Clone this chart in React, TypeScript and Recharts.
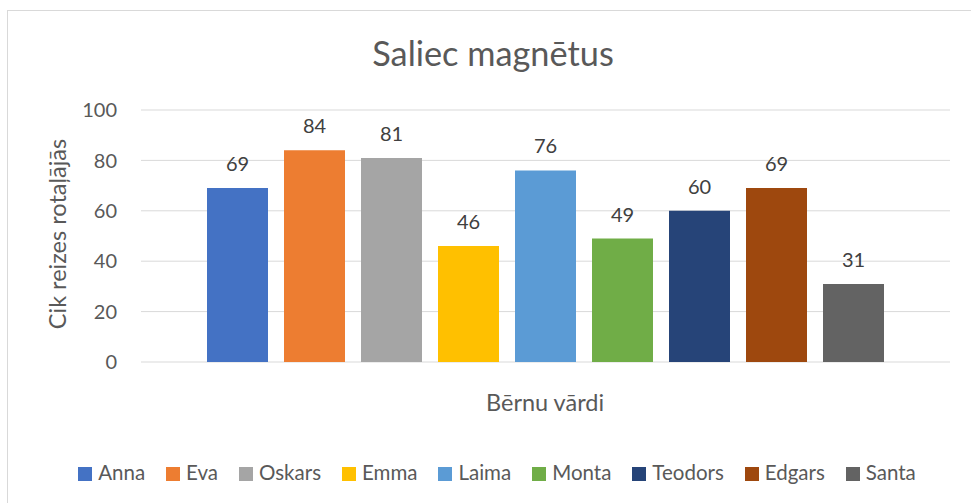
import React from 'react';
import { BarChart, Bar, XAxis, YAxis, CartesianGrid, LabelList } from 'recharts';

const seriesNames = ['Anna', 'Eva', 'Oskars', 'Emma', 'Laima', 'Monta', 'Teodors', 'Edgars', 'Santa'];
const seriesValues = [69, 84, 81, 46, 76, 49, 60, 69, 31];
const seriesColors = ['#4472C4', '#ED7D31', '#A5A5A5', '#FFC000', '#5B9BD5', '#70AD47', '#264478', '#9E480E', '#636363'];
const yTicks = [0, 20, 40, 60, 80, 100];
const titleText = 'Saliec magnētus';
const xTitle = 'Bērnu vārdi';
const yTitle = 'Cik reizes rotaļājās';

const row: Record<string, string | number> = { category: '' };
seriesNames.forEach((n, i) => {
  row[n] = seriesValues[i];
});
const data = [row];

const FONT = 'Lato, "Open Sans", sans-serif';
const TEXT = '#595959';

export default function App() {
  return (
    <div style={{ position: 'fixed', left: 0, top: 0, width: 971, height: 503, overflow: 'hidden', background: '#fff', fontFamily: FONT }}>
      <div style={{ position: 'absolute', left: 7, top: 10, width: 990, height: 520, border: '1px solid #d9d9d9', boxSizing: 'border-box' }} />
      <div style={{ position: 'absolute', left: 0, top: 0 }}>
        <BarChart
          width={971}
          height={503}
          data={data}
          margin={{ top: 110, right: 21, bottom: 141, left: 0 }}
          barSize={61}
          barGap={16}
        >
          <CartesianGrid vertical={false} stroke="#d9d9d9" strokeWidth={1} />
          <XAxis dataKey="category" hide />
          <YAxis
            width={141}
            domain={[0, 100]}
            ticks={yTicks}
            axisLine={false}
            tickLine={false}
            tickMargin={18}
            tick={{ fill: TEXT, fontSize: 20, fontFamily: FONT }}
          />
          {seriesNames.map((n, i) => (
            <Bar key={n} dataKey={n} fill={seriesColors[i]} isAnimationActive={false}>
              <LabelList dataKey={n} position="top" offset={17} fill="#404040" fontSize={20} fontFamily={FONT} />
            </Bar>
          ))}
          <text x={493} y={65.5} textAnchor="middle" fill={TEXT} fontSize={34.3} fontFamily={FONT}>
            {titleText}
          </text>
          <text x={545} y={411} textAnchor="middle" fill={TEXT} fontSize={23.5} fontFamily={FONT}>
            {xTitle}
          </text>
          <text
            x={65.5}
            y={234}
            transform="rotate(-90 65.5 234)"
            textAnchor="middle"
            fill={TEXT}
            fontSize={23.5}
            fontFamily={FONT}
          >
            {yTitle}
          </text>
        </BarChart>
      </div>
      <div
        style={{
          position: 'absolute',
          left: 7,
          width: 980,
          top: 462.3,
          display: 'flex',
          justifyContent: 'center',
          fontSize: 20.5,
          lineHeight: '20.5px',
          color: TEXT,
        }}
      >
        {seriesNames.map((n, i) => (
          <div key={n} style={{ display: 'flex', alignItems: 'center', marginRight: i < seriesNames.length - 1 ? 21 : 0 }}>
            <div style={{ width: 14, height: 14, background: seriesColors[i], marginRight: 6, marginTop: 2 }} />
            <span>{n}</span>
          </div>
        ))}
      </div>
    </div>
  );
}
